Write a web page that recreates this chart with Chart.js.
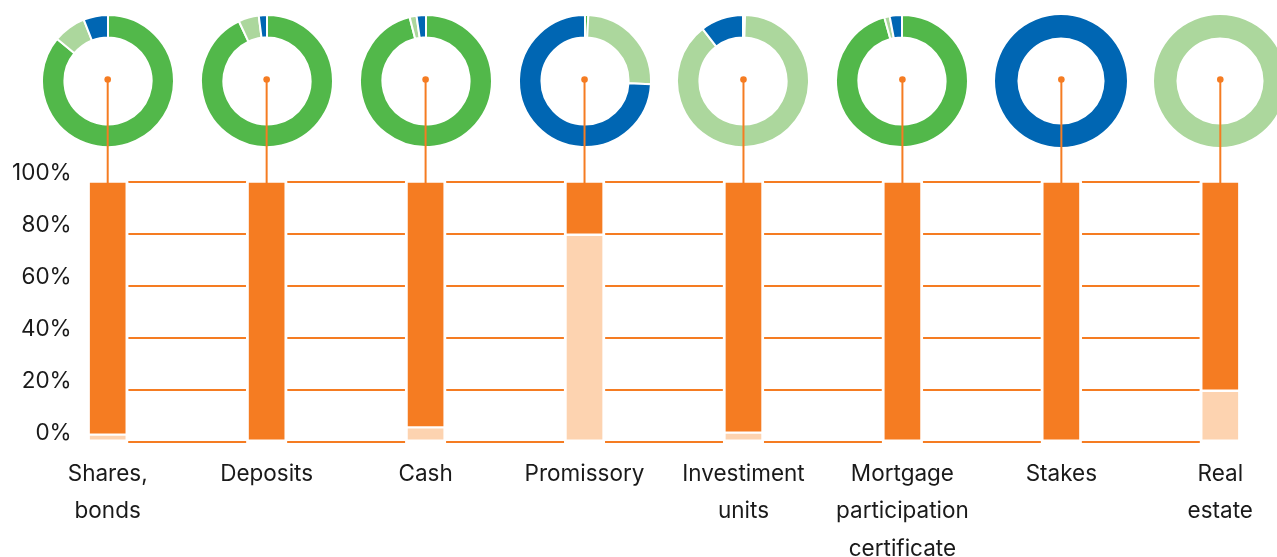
<!DOCTYPE html>
<html>
<head>
<meta charset="utf-8">
<script src="https://cdn.jsdelivr.net/npm/chart.js@4"></script>
<style>
  html, body { margin: 0; padding: 0; background: #fff; }
  #wrap { position: relative; width: 1277px; height: 557px; overflow: hidden; }
  #barChart { position: absolute; left: 0; top: 0; z-index: 2; }
  .donut { position: absolute; width: 134px; height: 134px; z-index: 1; }
</style>
</head>
<body>
<div id="wrap">
  <canvas id="barChart" width="1277" height="557"></canvas>
</div>
<script>
// asset classes
const categories = [
    ['Shares,', 'bonds'],
    ['Deposits'],
    ['Cash'],
    ['Promissory'],
    ['Investiment', 'units'],
    ['Mortgage', 'participation', 'certificate'],
    ['Stakes'],
    ['Real', 'estate']
];

// stacked bars, % of each class
const lightShare  = [2.7, 0, 5.5, 79.6, 3.5, 0, 0, 19.6];
const orangeShare = [97.3, 100, 94.5, 20.4, 96.5, 100, 100, 80.4];

// ring breakdown per class, %
const greenShare      = [86, 93, 96, 0.8, 0.5, 95.7, 0, 0];
const lightGreenShare = [8, 5, 1.7, 25, 89, 1.3, 0, 100];
const blueShare       = [6, 2, 2.3, 74.2, 10.5, 3, 100, 0];

const yTicks = [0, 20, 40, 60, 80, 100];

const ORANGE = '#f57c22';
const ORANGE_LIGHT = '#fdd3b0';
const GREEN = '#52b84a';
const GREEN_LIGHT = '#acd79d';
const BLUE = '#0066b3';
const TEXT = '#1a1a1a';
const FONT = 'Inter, "Open Sans", sans-serif';

const DONUT_Y = 80;
const DONUT_SIZE = 134;

Chart.defaults.font.family = FONT;
Chart.defaults.color = TEXT;

// grid lines stop short of each bar column
const gridGaps = {
    id: 'gridGaps',
    beforeDatasetsDraw(chart) {
        const { ctx, chartArea } = chart;
        const meta = chart.getDatasetMeta(0);
        ctx.save();
        ctx.fillStyle = '#ffffff';
        meta.data.forEach(bar => {
            const w = bar.width;
            ctx.fillRect(bar.x - w / 2, chartArea.top - 2, w, chartArea.bottom - chartArea.top + 4);
        });
        ctx.restore();
    }
};

// orange stem from each ring centre down to the bar top
const connectors = {
    id: 'connectors',
    afterDatasetsDraw(chart) {
        const { ctx, scales } = chart;
        const top = scales.y.getPixelForValue(100);
        ctx.save();
        ctx.strokeStyle = ORANGE;
        ctx.fillStyle = ORANGE;
        ctx.lineWidth = 2;
        categories.forEach((c, i) => {
            const x = scales.x.getPixelForValue(i);
            ctx.beginPath();
            ctx.moveTo(x, DONUT_Y);
            ctx.lineTo(x, top + 1.5);
            ctx.stroke();
            ctx.beginPath();
            ctx.arc(x, DONUT_Y - 0.5, 3.3, 0, Math.PI * 2);
            ctx.fill();
        });
        ctx.restore();
    }
};

const barBorder = { top: 1.5, bottom: 1.5, left: 3, right: 3 };

const barChart = new Chart(document.getElementById('barChart'), {
    type: 'bar',
    data: {
        labels: categories,
        datasets: [
            {
                label: 'light',
                data: lightShare,
                backgroundColor: ORANGE_LIGHT,
                borderColor: '#ffffff',
                borderWidth: barBorder,
                borderSkipped: false,
                barThickness: 41,
                clip: false
            },
            {
                label: 'orange',
                data: orangeShare,
                backgroundColor: ORANGE,
                borderColor: '#ffffff',
                borderWidth: barBorder,
                borderSkipped: false,
                barThickness: 41,
                clip: false
            }
        ]
    },
    options: {
        responsive: false,
        animation: false,
        layout: { padding: { top: 181.7, right: 56.7, left: 0, bottom: 0 } },
        plugins: {
            legend: { display: false },
            tooltip: { enabled: false }
        },
        scales: {
            x: {
                stacked: true,
                offset: false,
                grid: { display: false, drawTicks: false },
                border: { display: false },
                ticks: {
                    autoSkip: false,
                    maxRotation: 0,
                    padding: 14,
                    color: TEXT,
                    font: { size: 22.5, lineHeight: 1.66 }
                },
                afterFit: s => { s.height = 557 - 441.7; }
            },
            y: {
                stacked: true,
                min: 0,
                max: 100,
                afterBuildTicks: s => { s.ticks = yTicks.map(v => ({ value: v })); },
                grid: { color: ORANGE, lineWidth: 2, drawTicks: false },
                border: { display: false },
                ticks: {
                    padding: 36,
                    labelOffset: -8,
                    color: TEXT,
                    font: { size: 22.5 },
                    callback: v => v + '%'
                },
                afterFit: s => { s.width = 107.7; }
            }
        }
    },
    plugins: [gridGaps, connectors]
});

// one ring above each bar, centred on the category tick
const wrap = document.getElementById('wrap');
categories.forEach((c, i) => {
    const cx = barChart.scales.x.getPixelForValue(i);
    const box = document.createElement('div');
    box.className = 'donut';
    box.style.left = (cx - DONUT_SIZE / 2) + 'px';
    box.style.top = (DONUT_Y + 0.5 - DONUT_SIZE / 2) + 'px';
    const cv = document.createElement('canvas');
    cv.width = DONUT_SIZE;
    cv.height = DONUT_SIZE;
    box.appendChild(cv);
    wrap.appendChild(box);

    new Chart(cv, {
        type: 'doughnut',
        data: {
            labels: ['green', 'light green', 'blue'],
            datasets: [{
                data: [greenShare[i], lightGreenShare[i], blueShare[i]],
                backgroundColor: [GREEN, GREEN_LIGHT, BLUE],
                borderColor: '#ffffff',
                borderWidth: ctx => (ctx.raw >= 100 ? 0 : 2)
            }]
        },
        options: {
            responsive: false,
            animation: false,
            cutout: '66%',
            plugins: {
                legend: { display: false },
                tooltip: { enabled: false }
            }
        }
    });
});
</script>
</body>
</html>
